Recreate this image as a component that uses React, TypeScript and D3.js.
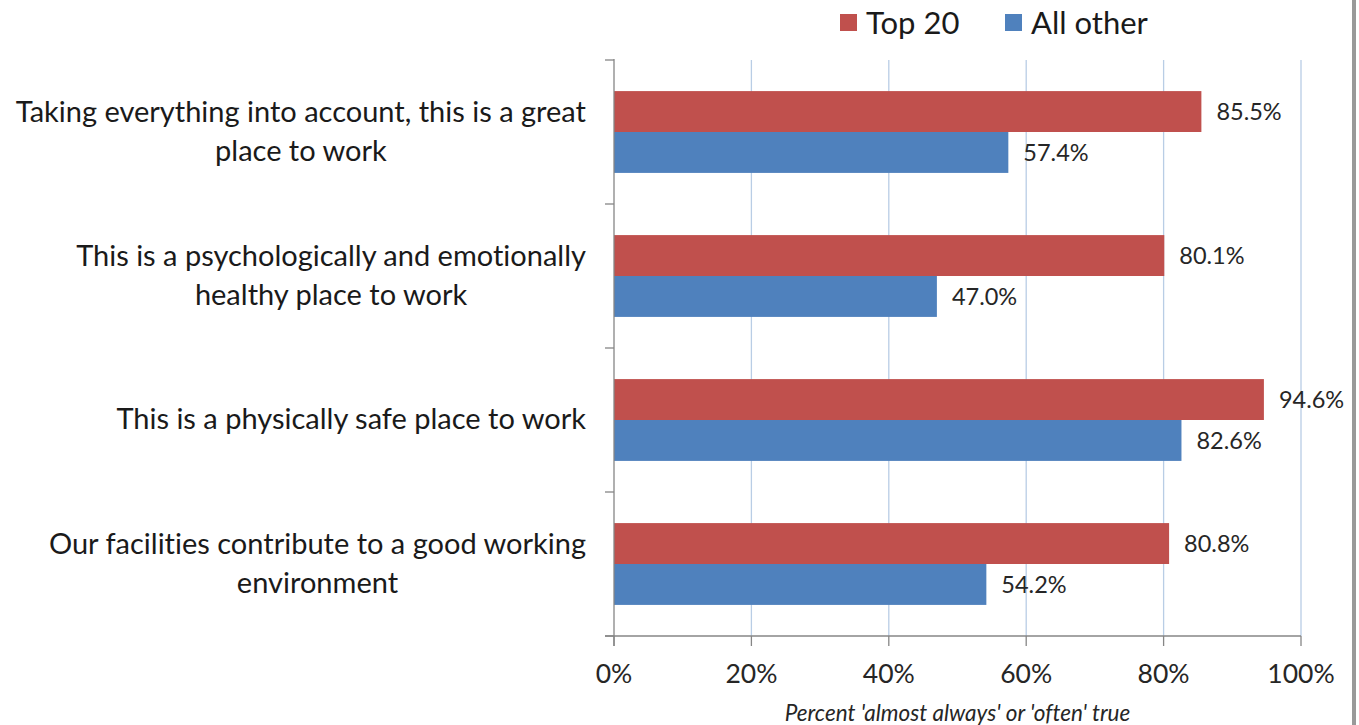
import React, { useEffect, useRef } from "react";
import * as d3 from "d3";

const categories: string[][] = [
  ["Taking everything into account, this is a great", "place to work"],
  ["This is a psychologically and emotionally", "healthy place to work"],
  ["This is a physically safe place to work"],
  ["Our facilities contribute to a good working", "environment"],
];
const seriesNames = ["Top 20", "All other"];
const top20 = [85.5, 80.1, 94.6, 80.8];
const allOther = [57.4, 47.0, 82.6, 54.2];
const xTicks = [0, 20, 40, 60, 80, 100];
const axisTitle = "Percent 'almost always' or 'often' true";

const W = 1359;
const H = 725;
const M = { left: 614, right: 1301, top: 60, bottom: 636 };
const colors = ["#C0504D", "#4F81BD"];
const FONT = "Lato, 'Open Sans', sans-serif";

export default function App() {
  const ref = useRef<SVGSVGElement>(null);
  useEffect(() => {
    const svg = d3.select(ref.current!);
    svg.selectAll("*").remove();
    svg.style("font-variant-ligatures", "none");
    const x = d3.scaleLinear().domain([0, 100]).range([M.left, M.right]);
    const y = d3
      .scaleBand<number>()
      .domain(d3.range(categories.length))
      .range([M.top, M.bottom]);
    const inner = d3
      .scaleBand<number>()
      .domain([0, 1])
      .range([0, y.bandwidth()])
      .paddingOuter(0.76)
      .paddingInner(0);

    svg.append("rect").attr("width", W).attr("height", H).attr("fill", "#fff");

    // gridlines
    svg
      .append("g")
      .selectAll("line")
      .data(xTicks.slice(1))
      .join("line")
      .attr("x1", (d) => x(d))
      .attr("x2", (d) => x(d))
      .attr("y1", M.top)
      .attr("y2", M.bottom)
      .attr("stroke", "#B9CDE5")
      .attr("stroke-width", 1.3);

    // bars
    const series = [top20, allOther];
    series.forEach((vals, si) => {
      const g = svg.append("g");
      g.selectAll("rect")
        .data(vals)
        .join("rect")
        .attr("x", x(0))
        .attr("y", (_, i) => y(i)! + inner(si)!)
        .attr("width", (d) => x(d) - x(0))
        .attr("height", inner.bandwidth())
        .attr("fill", colors[si]);
      g.selectAll("text")
        .data(vals)
        .join("text")
        .attr("x", (d) => x(d) + 15)
        .attr("y", (_, i) => y(i)! + inner(si)! + inner.bandwidth() / 2)
        .attr("dy", "0.35em")
        .attr("font-family", FONT)
        .attr("font-size", 23.5)
        .attr("fill", "#262626")
        .text((d) => d.toFixed(1) + "%");
    });

    // axes
    const axisColor = "#868686";
    svg
      .append("line")
      .attr("x1", M.left)
      .attr("x2", M.left)
      .attr("y1", M.top - 1)
      .attr("y2", M.bottom + 10)
      .attr("stroke", axisColor)
      .attr("stroke-width", 1.3);
    svg
      .append("line")
      .attr("x1", M.left - 9)
      .attr("x2", M.right)
      .attr("y1", M.bottom)
      .attr("y2", M.bottom)
      .attr("stroke", axisColor)
      .attr("stroke-width", 1.3);
    // left ticks
    const yBounds = d3.range(categories.length + 1).map((i) => M.top + i * y.step());
    svg
      .append("g")
      .selectAll("line")
      .data(yBounds)
      .join("line")
      .attr("x1", M.left - 9)
      .attr("x2", M.left)
      .attr("y1", (d) => d)
      .attr("y2", (d) => d)
      .attr("stroke", axisColor)
      .attr("stroke-width", 1.3);
    // bottom ticks
    svg
      .append("g")
      .selectAll("line")
      .data(xTicks)
      .join("line")
      .attr("x1", (d) => x(d))
      .attr("x2", (d) => x(d))
      .attr("y1", M.bottom)
      .attr("y2", M.bottom + 10)
      .attr("stroke", axisColor)
      .attr("stroke-width", 1.3);
    svg
      .append("g")
      .selectAll("text")
      .data(xTicks)
      .join("text")
      .attr("x", (d) => x(d))
      .attr("y", 674)
      .attr("dy", "0.35em")
      .attr("text-anchor", "middle")
      .attr("font-family", FONT)
      .attr("font-size", 26.5)
      .attr("fill", "#262626")
      .text((d) => d + "%");
    svg
      .append("text")
      .attr("x", (M.left + M.right) / 2)
      .attr("y", 713)
      .attr("dy", "0.35em")
      .attr("text-anchor", "middle")
      .attr("font-family", FONT)
      .attr("font-style", "italic")
      .attr("font-size", 22.5)
      .attr("fill", "#262626")
      .text(axisTitle);

    // category labels
    const lineH = 39;
    const rightEdge = 586;
    categories.forEach((lines, i) => {
      const cy = y(i)! + y.bandwidth() / 2 - 1;
      const g = svg.append("g");
      const texts = lines.map((ln, li) =>
        g
          .append("text")
          .attr("y", cy + (li - (lines.length - 1) / 2) * lineH)
          .attr("dy", "0.35em")
          .attr("text-anchor", "middle")
          .attr("font-family", FONT)
          .attr("font-size", 29)
          .attr("fill", "#1a1a1a")
          .text(ln)
      );
      const widths = texts.map((t) => (t.node() as SVGTextElement).getComputedTextLength());
      const maxW = d3.max(widths) || 0;
      texts.forEach((t) => t.attr("x", rightEdge - maxW / 2));
    });

    // legend
    const legX = [840, 1005];
    seriesNames.forEach((name, i) => {
      svg
        .append("rect")
        .attr("x", legX[i])
        .attr("y", 14)
        .attr("width", 17)
        .attr("height", 17)
        .attr("fill", colors[i]);
      svg
        .append("text")
        .attr("x", legX[i] + 26)
        .attr("y", 23)
        .attr("dy", "0.35em")
        .attr("font-family", FONT)
        .attr("font-size", 31)
        .attr("fill", "#1a1a1a")
        .text(name);
    });

    // right border
    svg
      .append("rect")
      .attr("x", 1352)
      .attr("y", 0)
      .attr("width", 4)
      .attr("height", H)
      .attr("fill", "#999");
  }, []);
  return (
    <svg
      ref={ref}
      width={W}
      height={H}
      style={{ position: "absolute", left: 0, top: 0 }}
    />
  );
}
